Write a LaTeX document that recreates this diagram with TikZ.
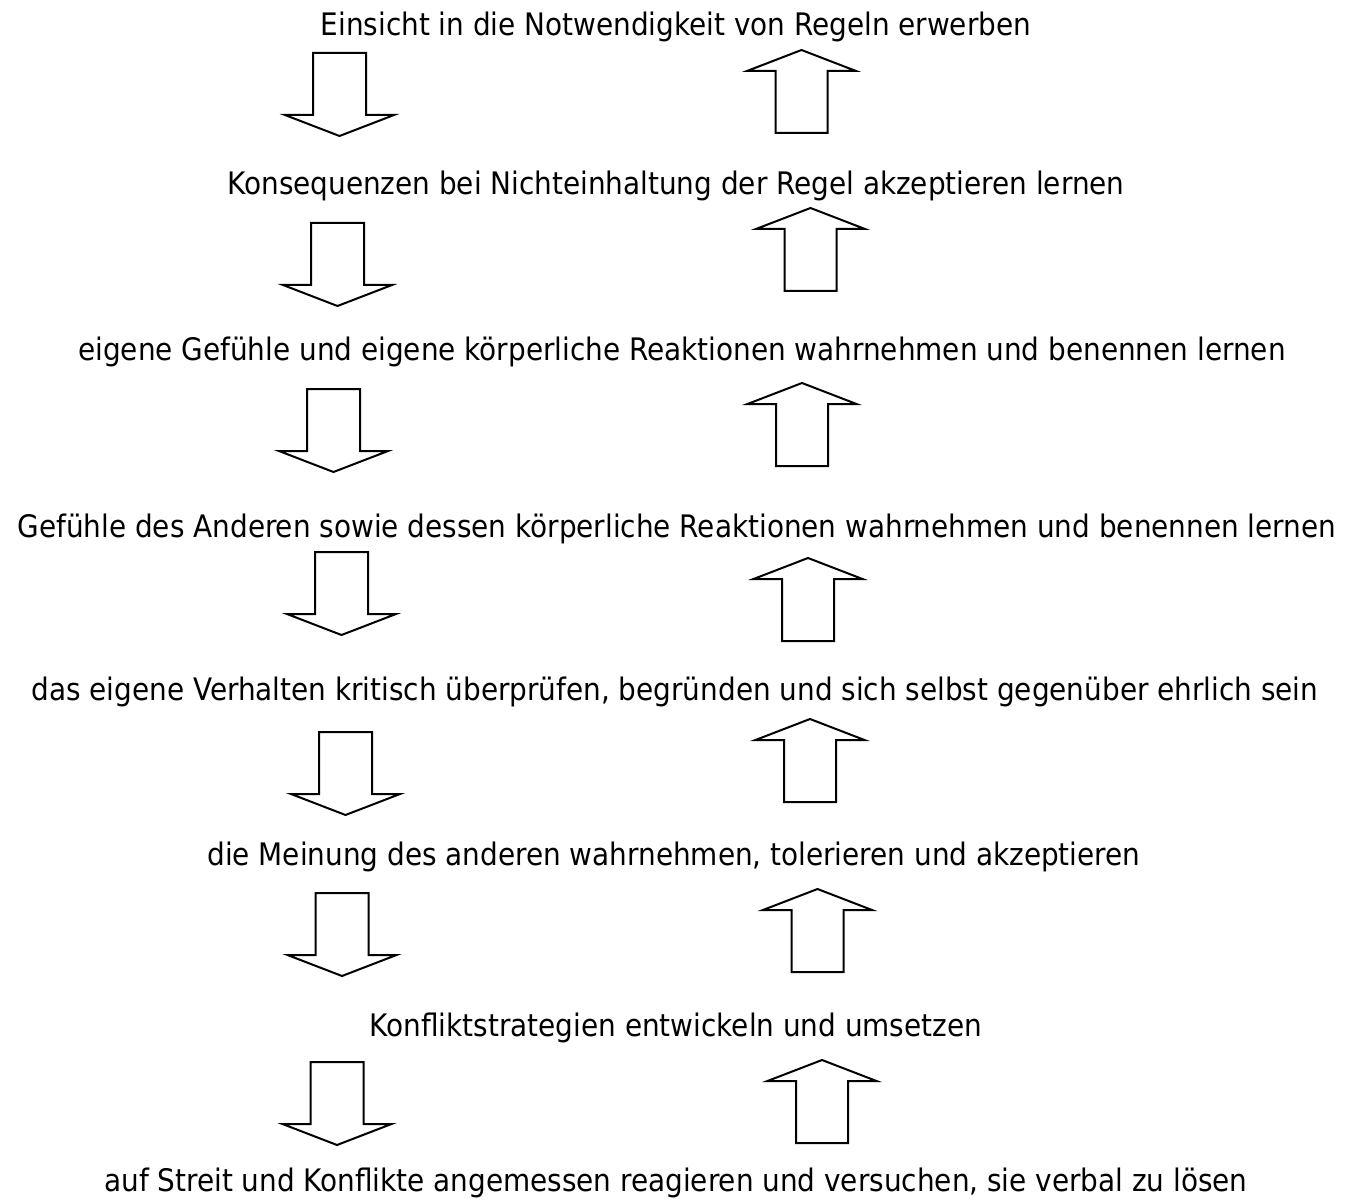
\documentclass[tikz,border=0pt]{standalone}
\usepackage{fontspec}
\setmainfont{DejaVu Sans Condensed}
\begin{document}
\begin{tikzpicture}[x=1pt,y=-1pt,
  lbl/.style={anchor=base,inner sep=0pt,font=\fontsize{31}{36}\selectfont},
  arrowline/.style={draw=black,line width=2pt,line join=miter,fill=white},
  downarrow/.pic={\path[arrowline] (-26.5,0) -- (26.5,0) -- (26.5,62) -- (54.5,62) -- (0,83) -- (-54.5,62) -- (-26.5,62) -- cycle;},
  uparrow/.pic={\path[arrowline] (0,0) -- (54.5,21) -- (26,21) -- (26,83) -- (-26,83) -- (-26,21) -- (-54.5,21) -- cycle;}
]
\useasboundingbox[fill=white] (0,0) rectangle (1361,1201);
\node[lbl] (t1) at (676,36) {Einsicht in die Notwendigkeit von Regeln erwerben};
\node[lbl] (t2) at (676,195) {Konsequenzen bei Nichteinhaltung der Regel akzeptieren lernen};
\node[lbl] (t3) at (682,360) {eigene Gefühle und eigene körperliche Reaktionen wahrnehmen und benennen lernen};
\node[lbl] (t4) at (677,537) {Gefühle des Anderen sowie dessen körperliche Reaktionen wahrnehmen und benennen lernen};
\node[lbl] (t5) at (675,700) {das eigene Verhalten kritisch überprüfen, begründen und sich selbst gegenüber ehrlich sein};
\node[lbl] (t6) at (674,865) {die Meinung des anderen wahrnehmen, tolerieren und akzeptieren};
\node[lbl] (t7) at (676,1036) {Konfliktstrategien entwickeln und umsetzen};
\node[lbl] (t8) at (676,1191) {auf Streit und Konflikte angemessen reagieren und versuchen, sie verbal zu lösen};
\pic at (339.5,53) {downarrow};
\pic at (337.5,223) {downarrow};
\pic at (333.5,389) {downarrow};
\pic at (341.5,552) {downarrow};
\pic at (345.5,732) {downarrow};
\pic at (342,893) {downarrow};
\pic at (337,1062) {downarrow};
\pic at (801.5,50) {uparrow};
\pic at (810.5,208) {uparrow};
\pic at (802,383) {uparrow};
\pic at (808,558) {uparrow};
\pic at (810,719) {uparrow};
\pic at (817.5,889) {uparrow};
\pic at (822,1060) {uparrow};
\end{tikzpicture}
\end{document}
